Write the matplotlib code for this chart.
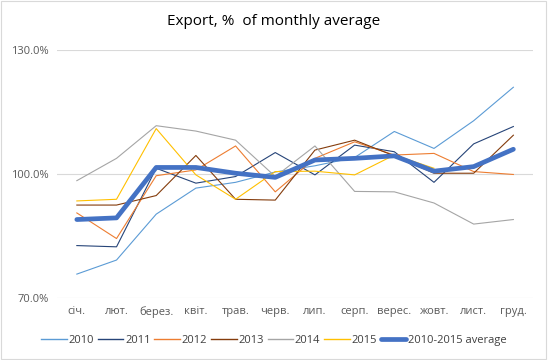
import matplotlib.pyplot as plt
import numpy as np
from matplotlib.patches import Rectangle

months = ["січ.", "лют.", "берез.", "квіт.", "трав.", "черв.",
          "лип.", "серп.", "верес.", "жовт.", "лист.", "груд."]

y2010 = [75.8, 79.2, 90.3, 96.6, 98.0, 100.5, 102.0, 104.0, 110.3, 106.2, 112.9, 121.0]
y2011 = [82.7, 82.4, 101.4, 97.8, 99.4, 105.2, 99.8, 107.0, 105.4, 98.0, 107.3, 111.5]
y2012 = [90.6, 84.4, 99.6, 101.0, 106.8, 95.7, 103.8, 107.8, 104.6, 105.0, 100.6, 99.9]
y2013 = [92.5, 92.5, 94.8, 104.5, 93.9, 93.7, 105.8, 108.2, 104.4, 100.2, 100.2, 109.4]
y2014 = [98.4, 103.8, 111.7, 110.4, 108.2, 99.4, 106.8, 95.8, 95.7, 93.0, 87.9, 89.0]
y2015 = [93.5, 93.9, 111.0, 99.8, 93.9, 100.6, 100.7, 99.8, 104.6, 101.4, np.nan, np.nan]
avg = [89.0, 89.4, 101.6, 101.6, 100.2, 99.2, 103.4, 103.8, 104.4, 100.7, 101.8, 106.0]

series = [("2010", y2010, "#5B9BD5"), ("2011", y2011, "#264478"),
          ("2012", y2012, "#ED7D31"), ("2013", y2013, "#843C0C"),
          ("2014", y2014, "#A5A5A5"), ("2015", y2015, "#FFC000")]

plt.rcParams['font.family'] = ['Open Sans', 'DejaVu Sans']

fig = plt.figure(figsize=(5.48, 3.6), dpi=100)
ax = fig.add_axes([0.104, 0.172, 0.869, 0.689])

x = np.arange(len(months))
for name, vals, col in series:
    ax.plot(x, vals, color=col, linewidth=0.8, label=name)
ax.plot(x, avg, color="#4472C4", linewidth=3.4, label="2010-2015 average",
        solid_capstyle="round", solid_joinstyle="round")

ax.set_xlim(-0.5, 11.5)
ax.set_ylim(70, 130)
ax.set_yticks([70, 100, 130])
ax.set_yticklabels(["70.0%", "100.0%", "130.0%"])
ax.set_xticks(x)
ax.set_xticklabels(months)
ax.tick_params(length=0, labelsize=8, colors="#595959", pad=6)
ax.grid(axis="y", color="#D9D9D9", linewidth=0.8)
ax.set_axisbelow(True)
for s in ax.spines.values():
    s.set_visible(False)

fig.text(0.5, 0.94, "Export, %  of monthly average", ha="center", va="center",
         fontsize=11, color="#000000")

leg = fig.legend(loc="center", bbox_to_anchor=(0.5, 0.055), ncol=7, frameon=False,
                 fontsize=8, handlelength=2.3, columnspacing=0.35, handletextpad=0.15,
                 labelcolor="#404040")
for h in leg.get_lines()[:-1]:
    h.set_linewidth(1.0)

fig.patches.append(Rectangle((0.002, 0.003), 0.995, 0.993, transform=fig.transFigure,
                             fill=False, edgecolor="#D9D9D9", linewidth=0.8))

plt.savefig("out.png", dpi=100)
